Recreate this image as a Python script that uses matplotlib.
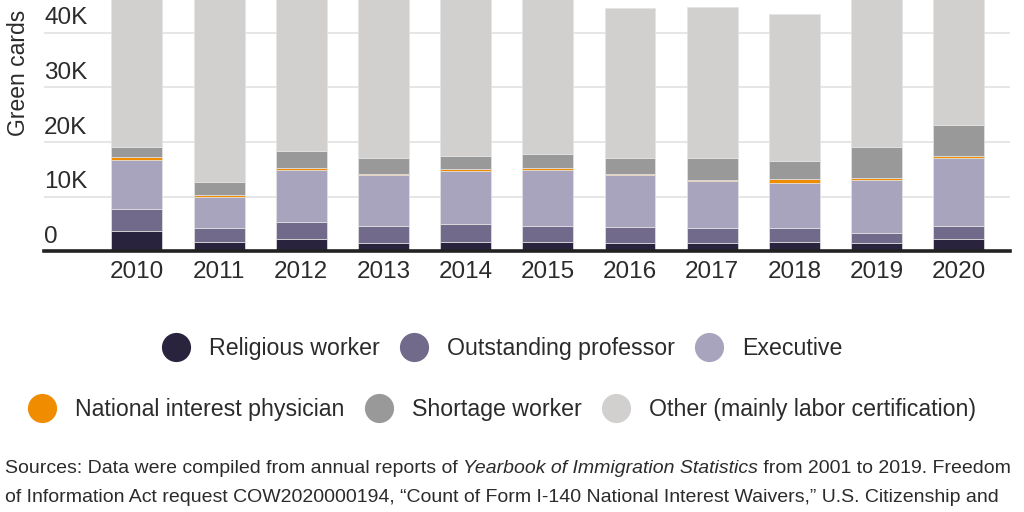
import matplotlib
matplotlib.use("Agg")
import matplotlib.pyplot as plt
from matplotlib.lines import Line2D
from matplotlib.transforms import blended_transform_factory, offset_copy
import numpy as np

plt.rcParams['font.family'] = ['Liberation Sans', 'DejaVu Sans']

# data (green cards per year)
years = [2010, 2011, 2012, 2013, 2014, 2015, 2016, 2017, 2018, 2019, 2020]
religious = [3800, 1800, 2200, 1450, 1800, 1800, 1450, 1450, 1800, 1450, 2250]
professor = [4000, 2400, 3250, 3250, 3300, 2900, 3050, 2750, 2400, 2000, 2450]
executive = [9000, 5700, 9400, 9200, 9700, 10150, 9400, 8650, 8350, 9700, 12450]
physician = [400, 350, 350, 350, 350, 350, 350, 300, 650, 350, 350]
shortage = [1850, 2400, 3250, 2800, 2350, 2650, 2800, 3900, 3250, 5550, 5550]
other = [31000, 38000, 30500, 33000, 31500, 32000, 27400, 27700, 27000, 30000, 26000]

series = [religious, professor, executive, physician, shortage, other]
labels = ["Religious worker", "Outstanding professor", "Executive",
          "National interest physician", "Shortage worker",
          "Other (mainly labor certification)"]
colors = ["#29233d", "#716a8a", "#a8a4bd", "#f08c00", "#999999", "#d2cfcf"]

yticks = [0, 10000, 20000, 30000, 40000]
ytick_labels = ["0", "10K", "20K", "30K", "40K"]

text_color = "#2b2b2b"

fig = plt.figure(figsize=(10.24, 5.12), dpi=100)
ax = fig.add_axes([0.043, 0.509, 0.943, 0.491])

bottom = np.zeros(len(years))
for vals, col in zip(series, colors):
    ax.bar(years, vals, bottom=bottom, width=0.62, color=col,
           edgecolor="#e4e4e4", linewidth=0.5, zorder=3)
    bottom += np.array(vals)

ax.set_xlim(2008.87, 2020.62)
ax.set_ylim(0, 46000)

# gridlines and labels sitting above them
ax.set_yticks(yticks)
ax.set_yticklabels([])
ax.tick_params(axis='y', length=0)
ax.grid(axis='y', color="#e2e2e2", linewidth=1.2, zorder=0)
trans = offset_copy(blended_transform_factory(ax.transAxes, ax.transData),
                    fig=fig, x=0, y=8.5, units='dots')
for v, lab in zip(yticks, ytick_labels):
    ax.text(0, v, lab, transform=trans, ha='left', va='baseline',
            fontsize=17.5, color=text_color, zorder=2)

ax.set_xticks(years)
ax.set_xticklabels([str(y) for y in years], fontsize=17.5, color=text_color)
ax.tick_params(axis='x', length=0, pad=7)

for s in ['top', 'right', 'left']:
    ax.spines[s].set_visible(False)
ax.spines['bottom'].set_color("#222222")
ax.spines['bottom'].set_linewidth(2.6)
ax.spines['bottom'].set_zorder(4)

ax.set_ylabel("Green cards", fontsize=16.5, color=text_color)
ax.yaxis.label.set_va('center')
ax.yaxis.set_label_coords(-0.0265, 0.71)

# legend in two centred rows
handles = [Line2D([], [], marker='o', linestyle='none', markersize=21,
                  markerfacecolor=c, markeredgecolor='none') for c in colors]
for row, yy in [(0, 0.319), (1, 0.200)]:
    idx = range(row * 3, row * 3 + 3)
    fig.legend([handles[i] for i in idx], [labels[i] for i in idx],
               loc='center', bbox_to_anchor=(0.49, yy), ncol=3,
               frameon=False, fontsize=16.7, handlelength=1.25,
               handletextpad=0.8, columnspacing=0.85,
               labelcolor=text_color)

# source note, with the italic title drawn as its own piece
fig.canvas.draw()
renderer = fig.canvas.get_renderer()
line1 = [("Sources: Data were compiled from annual reports of ", "normal"),
         ("Yearbook of Immigration Statistics", "italic"),
         (" from 2001 to 2019. Freedom", "normal")]
line2 = [("of Information Act request COW2020000194, \u201cCount of Form I-140 "
          "National Interest Waivers,\u201d U.S. Citizenship and", "normal")]
for parts, ybase in [(line1, 39), (line2, 10)]:
    x = 5
    for txt, style in parts:
        t = fig.text(x / 1024, ybase / 512, txt, fontsize=14, style=style,
                     color=text_color, ha='left', va='baseline')
        bb = t.get_window_extent(renderer)
        x = bb.x1

fig.savefig("out.png", dpi=100)
